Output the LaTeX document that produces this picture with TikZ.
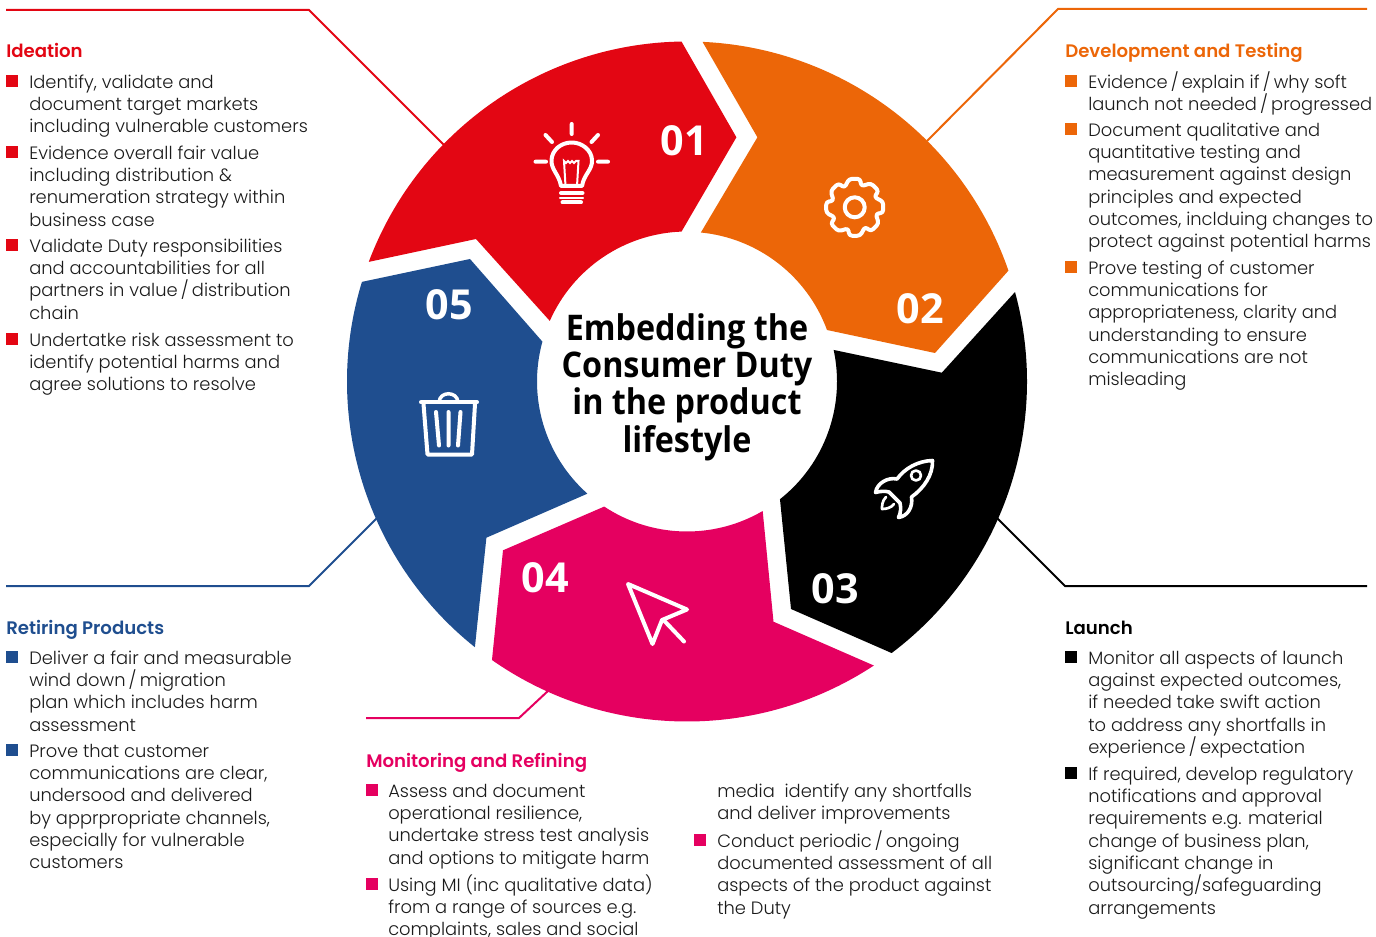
\documentclass[tikz,border=0pt]{standalone}
\usepackage{fontspec}
\setmainfont{Poppins Light}[BoldFont={Poppins SemiBold}]
\newfontfamily\numfont{Open Sans}
\newfontfamily\titlefont{Open Sans}[FakeStretch=0.915]
\definecolor{cred}{HTML}{E30613}
\definecolor{corange}{HTML}{EC6608}
\definecolor{cmag}{HTML}{E50060}
\definecolor{cblue}{HTML}{1F4E8F}
\definecolor{ctext}{HTML}{1A1A1A}
\tikzset{
  seg/.style={fill=#1,draw=none},
  lead/.style={draw=#1,line width=1.5pt},
  sq/.style={fill=#1,draw=none,minimum size=9pt,inner sep=0,anchor=center,rectangle},
  txt/.style={anchor=north west,inner sep=0,align=left,text=ctext,font=\fontsize{13.4pt}{16.75pt}\selectfont},
  head/.style={anchor=base west,inner sep=0,text=#1,font=\fontsize{13.6pt}{17pt}\selectfont\bfseries},
  num/.style={text=white,inner sep=0,font=\fontsize{31pt}{34pt}\selectfont\numfont\bfseries},
  ico/.style={draw=white,line width=3pt,line cap=round,line join=round},
}
\newcommand{\ltop}{\lineskiplimit=-20pt\relax\leavevmode\vrule height 15pt depth 0pt width 0pt\relax}
\newcommand{\slsh}{\kern-1.3pt/\kern-1.3pt}
\newcommand{\blt}[6]{% name, color, square x, text x, first line y, lines
  \node[sq=#2] (#1s) at (#3+6,#5) {};
  \node[txt] (#1) at (#4,#5-13) {\ltop #6};
}
\begin{document}
\begin{tikzpicture}[x=0.75pt,y=-0.75pt]
\useasboundingbox (0,0) rectangle (1376,937);
\clip (0,0) rectangle (1376,937);
\coordinate (C) at (687,381.5);
% leader lines
\coordinate (l1a) at (6,10);\coordinate (l1b) at (309,10);\coordinate (l1c) at (444,145);
\coordinate (l2a) at (1367,9);\coordinate (l2b) at (1058,9);\coordinate (l2c) at (927,141);
\coordinate (l3a) at (1367,586);\coordinate (l3b) at (1065,586);\coordinate (l3c) at (997,518);
\coordinate (l4a) at (366,718);\coordinate (l4b) at (519,718);\coordinate (l4c) at (549,690);
\coordinate (l5a) at (6,586);\coordinate (l5b) at (309,586);\coordinate (l5c) at (377,518);
\draw[lead=cred] (l1a)--(l1b)--(l1c);
\draw[lead=corange] (l2a)--(l2b)--(l2c);
\draw[lead=black] (l3a)--(l3b)--(l3c);
\draw[lead=cmag] (l4a)--(l4b)--(l4c);
\draw[lead=cblue] (l5a)--(l5b)--(l5c);
% segments
\fill[seg=cred] ([shift={(-159.4:340)}]C) arc (-159.4:-90.93:340) -- (736.4,137.3) -- ([shift={(-92.1:150)}]C) arc (-92.1:-156.17:150) -- (476,239) -- cycle;
\fill[seg=corange] ([shift={(-87.38:340)}]C) arc (-87.38:-19.03:340) -- (935,353) -- (827,330) arc (-20.2:-84.4:150) -- (757.4,137.3) -- cycle;
\fill[seg=black] ([shift={(-15.26:340)}]C) arc (-15.26:53:340) -- (791,609) -- ([shift={(51.7:150)}]C) arc (51.7:-12.15:150) -- (941.8,372.7) -- cycle;
\fill[seg=cmag] ([shift={(123.5:150)}]C) arc (123.5:59.7:150) -- (773.5,621.7) -- ([shift={(56.66:340)}]C) arc (56.66:125:340) -- (503,550.3) -- cycle;
\fill[seg=cblue] ([shift={(128.6:340)}]C) arc (128.6:197.04:340) -- (470,259) -- ([shift={(195.42:150)}]C) arc (195.42:131.6:150) -- (486.4,537.7) -- cycle;
% numbers
\node[num] (n1) at (684,141) {01};
\node[num] (n2) at (920,309) {02};
\node[num] (n3) at (835,589) {03};
\node[num] (n4) at (545,578) {04};
\node[num] (n5) at (449,305) {05};
% title
\node[inner sep=0,align=center,font=\fontsize{26.5pt}{28pt}\selectfont\titlefont\bfseries] (title) at (687,387)
 {Embedding the\\Consumer Duty\\in the product\\lifestyle};
% bulb
\draw[ico] (571.7,124)--(571.7,134) (545.5,135)--(552,142) (598,135)--(591.5,142) (535.5,161.7)--(546,161.7) (598,161.7)--(608,161.7);
\draw[ico] (561,186) .. controls (559,174) and (551,170) .. (551.5,160) .. controls (552,150) and (561,142.5) .. (571.7,142.5) .. controls (582,142.5) and (591.5,150) .. (592,160) .. controls (592.5,170) and (584,174) .. (582,186) -- cycle;
\draw[draw=white,line width=1.5pt] (565.5,186)--(564,161) -- (566,163)--(568,161)--(570,163)--(572,161)--(574,163)--(576,161)--(578.5,161)--(577,186);
\draw[ico] (561,193)--(582.5,193) (562.5,202.5)--(581,202.5);
\draw[draw=white,line width=1.6pt,line cap=round] (560,198)--(583,198);
% gear
\begin{scope}[shift={(854.7,207.3)}]
\draw[ico,rounded corners=2.2pt] (-11:29) -- (11:29) -- (17:22)
 -- (34:29)--(56:29)--(62:22)
 -- (79:29)--(101:29)--(107:22)
 -- (124:29)--(146:29)--(152:22)
 -- (169:29)--(191:29)--(197:22)
 -- (214:29)--(236:29)--(242:22)
 -- (259:29)--(281:29)--(287:22)
 -- (304:29)--(326:29)--(332:22) -- cycle;
\draw[ico] (0,0) circle (10);
\end{scope}
% rocket
\draw[ico,line width=2.7pt] (932.5,460.5) .. controls (918,461) and (905,468) .. (897,479)
 .. controls (888,477) and (877,483) .. (875.5,492.5)
 .. controls (881,491) and (885,491) .. (889,492)
 -- (900,503)
 .. controls (901,508) and (901,512) .. (898.5,517.5)
 .. controls (908,516) and (913,507) .. (911.5,497)
 .. controls (924,488) and (933,475) .. (932.5,460.5) -- cycle;
\draw[ico,line width=2pt] (916,475.5) circle (5);
\draw[ico,line width=2pt] (886,497) .. controls (882,501) and (882,506) .. (882,509) .. controls (886,509) and (891,508) .. (894,504);
% trash
\draw[ico] (421,402.3)--(477,402.3);
\draw[draw=white,line width=2.6pt] (439,402) .. controls (440,391) and (457,391) .. (458,402);
\draw[ico] (423.5,404)--(427.5,454.5)--(472,454.5)--(475,404);
\draw[ico] (436,412)--(439,445.5) (448.5,412)--(448.5,445.5) (460.5,412)--(458,445.5);
% cursor
\draw[ico] (628,584) -- (687,609.5) -- (662,620) -- (652.5,644) -- cycle;
\draw[ico] (663.5,620) -- (684,641.5);
% left text
\node[head=cred] (h1) at (6,58) {Ideation};
\blt{a}{cred}{6}{29}{81}{Identify, validate and\\document target markets\\including vulnerable customers}
\blt{b}{cred}{6}{29}{152}{Evidence overall fair value\\including distribution \&\\renumeration strategy within\\business case}
\blt{c}{cred}{6}{29}{245}{Validate Duty responsibilities\\and accountabilities for all\\partners in value \slsh{} distribution\\chain}
\blt{d}{cred}{6}{29}{339}{Undertatke risk assessment to\\identify potential harms and\\agree solutions to resolve}
\node[head=corange] (h2) at (1065,58) {Development and Testing};
\blt{e}{corange}{1065}{1088}{81}{Evidence \slsh{} explain if \slsh{} why soft\\launch not needed \slsh{} progressed}
\blt{f}{corange}{1065}{1088}{129}{Document qualitative and\\quantitative testing and\\measurement against design\\principles and expected\\outcomes, inclduing changes to\\protect against potential harms}
\blt{g}{corange}{1065}{1088}{267}{Prove testing of customer\\communications for\\appropriateness, clarity and\\understanding to ensure\\communications are not\\misleading}
\node[head=black] (h3) at (1065,634) {Launch};
\blt{i}{black}{1065}{1088}{657}{Monitor all aspects of launch\\against expected outcomes,\\if needed take swift action\\to address any shortfalls in\\experience \slsh{} expectation}
\blt{j}{black}{1065}{1088}{773}{If required, develop regulatory\\notifications and approval\\requirements e.g. material\\change of business plan,\\significant change in\\outsourcing/safeguarding\\arrangements}
\node[head=cblue] (h5) at (6,634) {Retiring Products};
\blt{k}{cblue}{6}{29}{657}{Deliver a fair and measurable\\wind down \slsh{} migration\\plan which includes harm\\assessment}
\blt{l}{cblue}{6}{29}{750}{Prove that customer\\communications are clear,\\undersood and delivered\\by apprpropriate channels,\\especially for vulnerable\\customers}
\node[head=cmag] (h4) at (366,767) {Monitoring and Refining};
\blt{m}{cmag}{366}{388}{790}{Assess and document\\operational resilience,\\undertake stress test analysis\\and options to mitigate harm}
\blt{n}{cmag}{366}{388}{884}{Using MI (inc qualitative data)\\from a range of sources e.g.\\complaints, sales and social}
\node[txt] (o) at (717,777) {\ltop media\ \ identify any shortfalls\\and deliver improvements};
\blt{p}{cmag}{694}{717}{840}{Conduct periodic \slsh{} ongoing\\documented assessment of all\\aspects of the product against\\the Duty}
\end{tikzpicture}
\end{document}
